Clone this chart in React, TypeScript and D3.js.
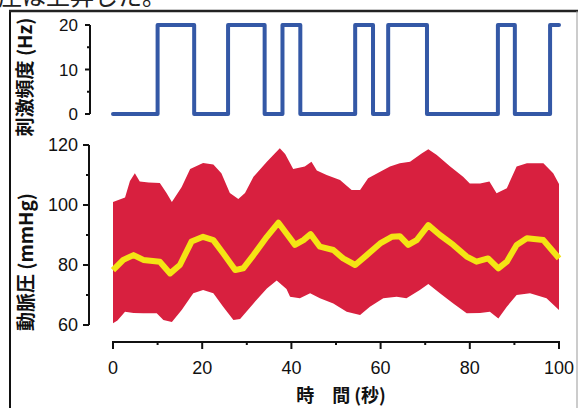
import * as d3 from 'd3';

// stimulation frequency (step changes)
const stimTimes = [0, 10, 18.2, 25.8, 34, 38, 42, 54.3, 58.3, 61.7, 70.4, 86.3, 90.1, 98, 100];
const stimHz = [0, 20, 0, 20, 0, 20, 0, 20, 0, 20, 0, 20, 0, 20, 20];

// arterial pressure envelope (systolic / diastolic) and mean
const upperTimes = [0, 2.7, 3.8, 4.9, 6, 8, 10.5, 12, 13.2, 15.4, 17.3, 20.2, 22.5, 24.3, 26.2, 28.1, 29.6, 31.5, 34.5, 37.4, 38.6, 40.4, 43, 44.5, 45.7, 47.9, 50.9, 53.5, 55.4, 57.2, 59.9, 62.1, 64.3, 66.6, 69.2, 70.7, 72.6, 75.6, 78.5, 80, 82.3, 84.4, 86, 88.3, 90.5, 92.8, 96.5, 98.7, 100];
const upperValues = [101, 102.5, 108, 110.6, 107.8, 107.5, 107.3, 104, 101, 106, 112, 114, 113.5, 110.6, 104, 102, 104, 109.4, 114.4, 118.9, 117, 112, 112.8, 114.4, 111.5, 110, 108.3, 105, 105, 108.9, 111.1, 112.8, 113.9, 114.4, 117.2, 118.6, 116.7, 112.8, 109.4, 107.2, 107.2, 107.8, 103.9, 105.6, 112.8, 113.9, 113.9, 110.6, 107];

const lowerTimes = [0, 1, 2.7, 4.6, 6.8, 9.8, 11.3, 13.2, 15.4, 18, 20.2, 22.5, 24.7, 27, 28.5, 31.5, 34.5, 36.7, 38.9, 39.7, 41.9, 44.2, 46.4, 49.4, 52.4, 55.4, 57.6, 60.6, 63.6, 65.8, 68.8, 70.7, 73.3, 76.3, 79.3, 82.3, 84.5, 86.4, 88.3, 90.5, 93.5, 97.2, 100];
const lowerValues = [60.6, 61.5, 64.4, 64, 63.9, 63.9, 61.7, 61, 65, 70.6, 71.7, 70.6, 66.1, 61.7, 62, 67.2, 72.2, 74.8, 72, 69.4, 68.9, 70.6, 68.9, 67.2, 64.4, 63.3, 66.1, 68.9, 69.4, 68.9, 71.7, 73.7, 70.6, 67.2, 63.9, 64, 64.4, 62.2, 66.1, 70, 70.6, 68.9, 65];

const meanTimes = [0, 2.3, 4.6, 6.8, 10.5, 12.8, 15, 17.6, 20.2, 22.5, 24.7, 27.4, 29.2, 31.5, 34.5, 37.1, 38.9, 40.8, 42.7, 44.3, 46.4, 49.4, 51.6, 54.3, 56.9, 59.9, 62.5, 64.3, 66.2, 68.1, 70.7, 73.3, 76.3, 79.3, 81.5, 84.1, 86.4, 88.3, 90.5, 92.8, 96.5, 98.4, 100];
const meanValues = [78.3, 81.7, 83.3, 81.7, 81.1, 77.2, 80, 87.8, 89.4, 88.3, 83.9, 78.3, 78.9, 83.3, 89.4, 94.1, 90.5, 86.7, 88.3, 90.3, 86.1, 85, 82.2, 80, 83.3, 87.2, 89.4, 89.6, 86.7, 88.3, 93.3, 90, 86.7, 82.8, 81.1, 82.2, 78.9, 81.1, 86.7, 88.9, 88.3, 85, 82.2];

const xTicks = [0, 20, 40, 60, 80, 100];
const xMinor = [10, 30, 50, 70, 90];
const pTicks = [60, 80, 100, 120];
const pMinor = [70, 90, 110];
const hzTicks = [0, 10, 20];
const hzMinor = [5, 15];

const NUM = '"Liberation Sans", Arial, sans-serif';
const JP = '"Noto Sans CJK JP", sans-serif';

export default function App() {
  const x = d3.scaleLinear().domain([0, 100]).range([113, 559]);
  const yP = d3.scaleLinear().domain([60, 120]).range([325, 145]);
  const yHz = d3.scaleLinear().domain([0, 20]).range([114, 25]);

  const stimLine = d3.line<number>()
    .x((_, i) => x(stimTimes[i]))
    .y(d => yHz(d))
    .curve(d3.curveStepAfter);

  // band polygon: upper edge forward, lower edge back
  const bandPts: [number, number][] = [
    ...upperTimes.map((t, i) => [t, upperValues[i]] as [number, number]),
    ...lowerTimes.map((t, i) => [t, lowerValues[i]] as [number, number]).reverse(),
  ];
  const band = d3.line<[number, number]>()
    .x(d => x(d[0]))
    .y(d => yP(d[1]));

  const meanLine = d3.line<number>()
    .x((_, i) => x(meanTimes[i]))
    .y(d => yP(d));

  const axTop = 90;
  const axBot = 89;
  const xAxisY = 342;

  return (
    <svg width={579} height={408} style={{ position: 'absolute', left: 0, top: 0, background: '#fff' }}>
      {/* page text cut off above the figure */}
      <text x={-2} y={5} fontFamily={JP} fontSize={24} fill="#222">圧は上昇した。</text>

      {/* frame */}
      <line x1={10} x2={10} y1={10} y2={408} stroke="#111" strokeWidth={2} />
      <line x1={9} x2={578} y1={11} y2={11} stroke="#222" strokeWidth={2.5} />
      <line x1={577} x2={577} y1={11} y2={408} stroke="#999" strokeWidth={1} />

      {/* top panel: stimulation */}
      <path d={stimLine(stimHz) ?? ''} fill="none" stroke="#3458a6" strokeWidth={4} strokeLinejoin="round" strokeLinecap="round" />
      <line x1={axTop} x2={axTop} y1={yHz(20)} y2={yHz(0)} stroke="#111" strokeWidth={2} />
      {hzTicks.map(t => (
        <g key={t}>
          <line x1={axTop - 5} x2={axTop} y1={yHz(t)} y2={yHz(t)} stroke="#111" strokeWidth={2} />
          <text x={axTop - 12} y={yHz(t) + 6} textAnchor="end" fontFamily={NUM} fontSize={17} fill="#111">{t}</text>
        </g>
      ))}
      {hzMinor.map(t => (
        <line key={t} x1={axTop - 3} x2={axTop} y1={yHz(t)} y2={yHz(t)} stroke="#111" strokeWidth={2} />
      ))}
      <text transform={`translate(32,${77}) rotate(-90)`} textAnchor="middle" fontFamily={JP} fontWeight="bold" fontSize={19} fill="#111">刺激頻度 (Hz)</text>

      {/* bottom panel: arterial pressure */}
      <path d={(band(bandPts) ?? '') + 'Z'} fill="#d8203f" />
      <path d={meanLine(meanValues) ?? ''} fill="none" stroke="#f4e514" strokeWidth={6} strokeLinejoin="round" />

      <line x1={axBot} x2={axBot} y1={yP(120)} y2={yP(60)} stroke="#111" strokeWidth={2} />
      {pTicks.map(t => (
        <g key={t}>
          <line x1={axBot - 6} x2={axBot} y1={yP(t)} y2={yP(t)} stroke="#111" strokeWidth={2} />
          <text x={axBot - 11} y={yP(t) + 6} textAnchor="end" fontFamily={NUM} fontSize={18} fill="#111">{t}</text>
        </g>
      ))}
      {pMinor.map(t => (
        <line key={t} x1={axBot - 3} x2={axBot} y1={yP(t)} y2={yP(t)} stroke="#111" strokeWidth={2} />
      ))}
      <text transform={`translate(33,${262}) rotate(-90)`} textAnchor="middle" fontFamily={JP} fontWeight="bold" fontSize={19} fill="#111">動脈圧 (mmHg)</text>

      <line x1={x(0) - 1} x2={x(100) + 1} y1={xAxisY} y2={xAxisY} stroke="#111" strokeWidth={2} />
      {xTicks.map(t => (
        <g key={t}>
          <line x1={x(t)} x2={x(t)} y1={xAxisY} y2={xAxisY + 7} stroke="#111" strokeWidth={2} />
          <text x={x(t)} y={xAxisY + 32} textAnchor="middle" fontFamily={NUM} fontSize={18} fill="#111">{t}</text>
        </g>
      ))}
      {xMinor.map(t => (
        <line key={t} x1={x(t)} x2={x(t)} y1={xAxisY} y2={xAxisY + 3} stroke="#111" strokeWidth={2} />
      ))}
      <text x={341} y={402} textAnchor="middle" fontFamily={JP} fontWeight="bold" fontSize={18} fill="#111" xmlSpace="preserve">時　間 (秒)</text>
    </svg>
  );
}
